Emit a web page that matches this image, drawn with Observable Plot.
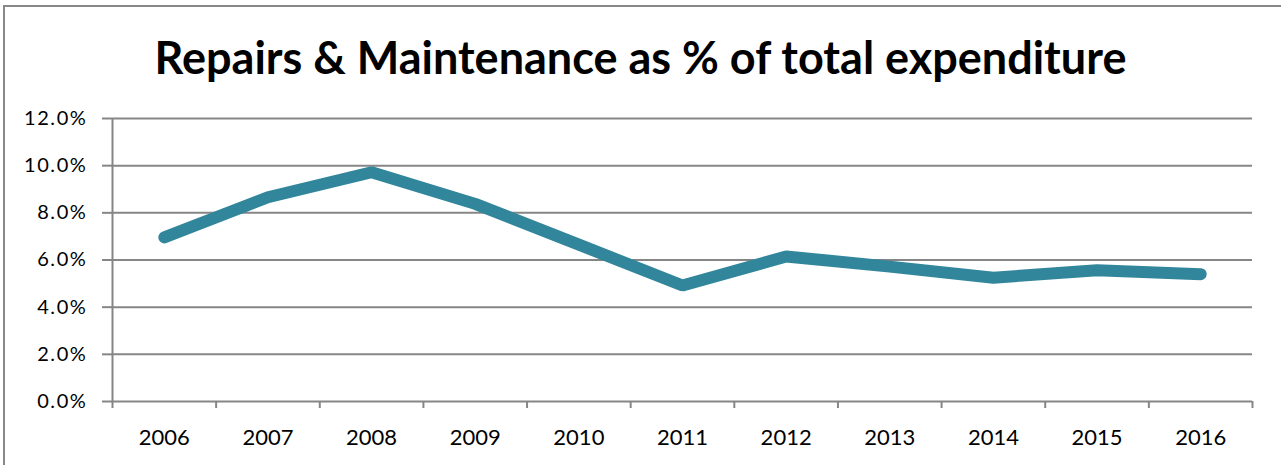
<!DOCTYPE html>
<html>
<head>
<meta charset="utf-8">
<script src="https://cdn.jsdelivr.net/npm/d3@7"></script>
<script src="https://cdn.jsdelivr.net/npm/@observablehq/plot@0.6"></script>
<style>
  html, body { margin: 0; padding: 0; background: #fff; }
  #wrap { position: relative; width: 1281px; height: 465px; overflow: hidden; }
  #frame { position: absolute; left: 3px; top: 5px; width: 1300px; height: 500px;
           border-left: 2px solid #888; border-top: 2px solid #888; box-sizing: border-box; }
  #title { position: absolute; left: 0; top: 0; width: 1281px; height: 100px;
           font-family: Lato, sans-serif; font-weight: 700; font-size: 45px; color: #000;
           text-align: center; line-height: 1; }
  #title span { position: absolute; left: 0; right: 0; top: 35px; white-space: nowrap; }
  #chart { position: absolute; left: 0; top: 100px; }
  #chart g[aria-label="y-axis tick label"] text { letter-spacing: 1.6px; }
</style>
</head>
<body>
<div id="wrap">
  <div id="frame"></div>
  <div id="title"><span>Repairs &amp; Maintenance as % of total expenditure</span></div>
  <div id="chart"></div>
</div>
<script>
const years = [2006, 2007, 2008, 2009, 2010, 2011, 2012, 2013, 2014, 2015, 2016];
const shares = [6.96, 8.66, 9.72, 8.38, 6.65, 4.92, 6.15, 5.72, 5.25, 5.57, 5.40];
const yTicks = [0, 2, 4, 6, 8, 10, 12];

const data = years.map((year, i) => ({year, share: shares[i]}));
const boundaries = years.map(y => y - 0.5).concat([years[years.length - 1] + 0.5]);
const xDomain = [boundaries[0], boundaries[boundaries.length - 1]];

const gray = "#868686";
const chart = Plot.plot({
  width: 1281,
  height: 365,
  marginLeft: 112,
  marginRight: 29,
  marginTop: 18,
  marginBottom: 64,
  style: {fontFamily: "Lato, sans-serif", color: "#000", background: "transparent"},
  x: {type: "linear", domain: xDomain},
  y: {type: "linear", domain: [0, 12]},
  marks: [
    Plot.ruleY(yTicks, {stroke: gray, strokeWidth: 2}),
    Plot.ruleX([xDomain[0]], {y1: 0, y2: 12, stroke: gray, strokeWidth: 2}),
    Plot.axisY({ticks: yTicks, tickFormat: d => d.toFixed(1) + "%", tickSize: 10, tickPadding: 15,
                stroke: gray, strokeWidth: 2, fontSize: 20, fill: "#000", label: null}),
    Plot.axisX({ticks: boundaries, tickFormat: () => "", tickSize: 7, stroke: gray, strokeWidth: 2, label: null}),
    Plot.axisX({ticks: years, tickFormat: d => String(d), tickSize: 0, tickPadding: 28,
                fontSize: 22, fill: "#000", label: null}),
    Plot.line(data, {x: "year", y: "share", stroke: "#31869b", strokeWidth: 12,
                     strokeLinecap: "round", strokeLinejoin: "miter"})
  ]
});
document.getElementById("chart").appendChild(chart);
</script>
</body>
</html>
